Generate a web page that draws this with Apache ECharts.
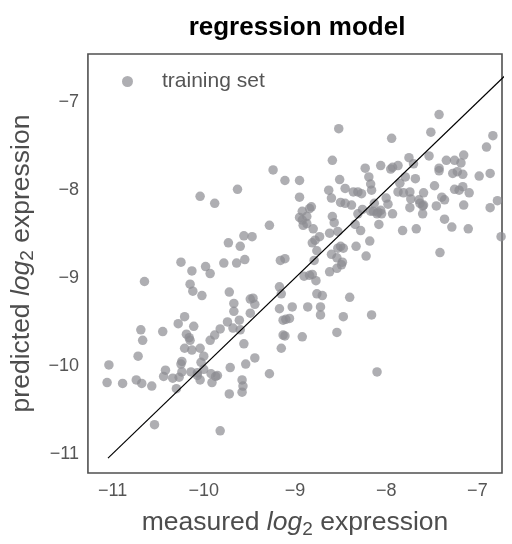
<!DOCTYPE html>
<html>
<head>
<meta charset="utf-8">
<script src="https://cdn.jsdelivr.net/npm/echarts@6/dist/echarts.min.js"></script>
<style>html,body{margin:0;padding:0;background:#fff;}#c{width:512px;height:544px;}</style>
</head>
<body>
<div id="c"></div>
<script>
const measured = [-9.24,-9.11,-10.04,-9.88,-9.63,-9.28,-9.56,-9.47,-9.73,-9.60,-10.25,-10.13,-9.98,-9.93,-9.78,-9.64,-9.55,-9.16,-9.11,-10.65,-10.15,-10.12,-10.02,-9.72,-9.67,-9.67,-9.49,-9.46,-9.44,-9.17,-9.15,-9.17,-9.03,-9.49,-10.21,-10.28,-10.69,-10.45,-10.67,-10.19,-10.16,-10.15,-10.11,-9.74,-9.61,-9.68,-9.60,-9.82,-9.88,-9.93,-9.13,-9.10,-9.06,-9.13,-9.11,-9.15,-9.56,-10.21,-10.13,-10.04,-10.72,-10.00,-9.44,-9.54,-9.71,-11.04,-10.24,-10.25,-10.03,-10.42,-10.44,-10.34,-10.27,-10.24,-10.14,-10.07,-10.07,-10.00,-9.92,-9.87,-9.85,-10.04,-9.91,-9.58,-9.57,-9.58,-9.72,-9.28,-11.06,-10.89,-10.74,-10.68,-10.57,-10.30,-10.54,-9.82,-7.42,-8.52,-7.94,-7.51,-6.83,-6.90,-8.59,-7.75,-7.53,-7.34,-7.25,-7.15,-7.18,-7.70,-8.23,-8.06,-7.95,-7.93,-7.87,-7.42,-7.42,-7.27,-7.22,-7.16,-6.98,-6.86,-8.19,-7.79,-7.68,-8.95,-8.51,-8.17,-7.85,-8.45,-8.63,-8.16,-7.47,-7.25,-7.20,-7.16,-7.09,-8.36,-8.31,-8.27,-7.87,-7.81,-7.74,-7.59,-8.95,-8.60,-8.00,-7.73,-7.64,-7.39,-7.36,-8.50,-8.45,-8.38,-7.63,-7.60,-7.59,-8.13,-7.98,-7.45,-7.15,-6.78,-6.86,-7.74,-8.82,-8.84,-8.92,-8.26,-8.31,-8.14,-8.17,-8.09,-8.06,-8.10,-8.05,-7.93,-7.60,-8.95,-8.87,-8.92,-8.87,-8.91,-8.59,-8.57,-7.36,-8.08,-8.34,-8.28,-8.80,-8.53,-8.62,-7.28,-7.10,-7.82,-7.67,-6.74,-8.73,-8.78,-8.81,-8.18,-8.33,-8.50,-8.47,-8.53,-8.76,-8.60,-8.54,-8.22,-7.41,-8.79,-8.48,-8.49,-8.54,-8.62,-8.90,-8.84,-8.81,-8.77,-8.76,-8.70,-8.40,-8.86,-8.72,-8.72,-8.47,-8.16,-8.54,-8.92,-8.10];
const predicted = [-7.77,-7.89,-8.07,-8.15,-7.99,-8.40,-8.52,-8.53,-8.60,-8.64,-8.82,-8.92,-8.87,-8.95,-8.83,-8.83,-8.79,-8.80,-8.78,-9.04,-9.07,-9.15,-9.20,-9.16,-9.29,-9.38,-9.24,-9.23,-9.30,-9.10,-9.18,-9.35,-9.33,-9.40,-9.44,-9.52,-9.59,-9.61,-9.71,-9.64,-9.68,-9.71,-9.55,-9.50,-9.48,-9.57,-9.59,-9.58,-9.65,-9.71,-9.48,-9.47,-9.46,-9.65,-9.66,-9.80,-9.75,-9.80,-9.82,-9.80,-9.89,-9.89,-9.91,-9.98,-10.02,-9.99,-9.95,-9.98,-9.96,-10.05,-10.12,-10.14,-10.13,-10.07,-10.07,-10.08,-10.11,-10.04,-10.09,-10.12,-10.11,-10.16,-10.19,-10.16,-10.23,-10.30,-10.32,-10.09,-10.19,-10.20,-10.16,-10.20,-10.23,-10.26,-10.67,-10.74,-7.14,-7.30,-7.41,-7.34,-7.38,-7.51,-7.66,-7.63,-7.61,-7.66,-7.66,-7.60,-7.69,-7.70,-7.75,-7.72,-7.76,-7.74,-7.72,-7.75,-7.78,-7.81,-7.79,-7.82,-7.84,-7.81,-7.85,-7.85,-7.87,-7.89,-7.88,-7.93,-7.92,-7.98,-8.00,-8.00,-7.95,-7.99,-8.00,-7.96,-8.03,-8.02,-8.02,-8.04,-8.02,-8.03,-8.02,-8.03,-8.08,-8.09,-8.09,-8.10,-8.11,-8.08,-8.11,-8.14,-8.15,-8.17,-8.15,-8.18,-8.17,-8.15,-8.16,-8.18,-8.17,-8.12,-8.20,-8.20,-8.19,-8.21,-8.24,-8.22,-8.27,-8.24,-8.24,-8.25,-8.23,-8.27,-8.27,-8.27,-8.27,-8.31,-8.30,-8.34,-8.38,-8.40,-8.30,-8.37,-8.33,-8.39,-8.39,-8.46,-8.44,-8.47,-8.49,-8.42,-8.44,-8.46,-8.44,-8.53,-8.53,-8.57,-8.60,-8.58,-8.64,-8.64,-8.66,-8.66,-8.69,-8.73,-8.77,-8.75,-8.71,-8.80,-8.82,-8.85,-8.89,-8.93,-8.98,-8.97,-8.96,-9.03,-9.18,-9.20,-9.22,-9.33,-9.33,-9.42,-9.44,-9.42,-9.62,-9.67,-10.07];
const identityLine = [-11.05, -6.6];
const xTicks = [-11, -10, -9, -8, -7];
const yTicks = [-11, -10, -9, -8, -7];
const seriesName = 'training set';

const points = measured.map((m, i) => [m, predicted[i]]);
const linePts = identityLine.map(v => [v, v]);
const fmt = v => (v < 0 ? '\u2212' : '') + Math.abs(v);
const labelColor = '#4d4d4d';
const fam = '"Liberation Sans", Arial, sans-serif';
const nameRich = {
  a: {fontSize: 26.5, color: labelColor, fontFamily: fam},
  i: {fontSize: 26.5, color: labelColor, fontFamily: fam, fontStyle: 'italic'},
  s: {fontSize: 19, color: labelColor, fontFamily: fam, padding: [13, 0, 0, 0]}
};

const chart = echarts.init(document.getElementById('c'), null, {renderer: 'canvas'});
chart.setOption({
  animation: false,
  backgroundColor: '#fff',
  title: {
    text: 'regression model', left: 292, top: 10, textAlign: 'center',
    textStyle: {fontSize: 26, fontWeight: 'bold', color: '#000', fontFamily: fam}
  },
  legend: {
    data: [seriesName], left: 117, top: 66, icon: 'circle', itemWidth: 11, itemHeight: 11,
    textStyle: {fontSize: 21, color: '#555', fontFamily: fam, padding: [0, 0, 0, 24]}
  },
  grid: {left: 87, right: 10, top: 54, bottom: 57, show: true, borderColor: '#505050', borderWidth: 1.6},
  xAxis: {
    type: 'value', min: -11.27, max: -6.73,
    splitLine: {show: false}, axisLine: {show: false}, axisTick: {show: false},
    axisLabel: {customValues: xTicks, formatter: fmt, fontSize: 18, color: '#555', margin: 9, fontFamily: fam},
    name: '{a|measured }{i|log}{s|2}{a| expression}', nameLocation: 'middle', nameGap: 34,
    nameTextStyle: {rich: nameRich}
  },
  yAxis: {
    type: 'value', min: -11.22, max: -6.45,
    splitLine: {show: false}, axisLine: {show: false}, axisTick: {show: false},
    axisLabel: {customValues: yTicks, formatter: fmt, fontSize: 18, color: '#555', margin: 9, fontFamily: fam},
    name: '{a|predicted }{i|log}{s|2}{a| expression}', nameLocation: 'middle', nameGap: 45,
    nameTextStyle: {rich: nameRich}
  },
  series: [
    {
      name: seriesName, type: 'scatter', data: points, symbolSize: 9.5,
      itemStyle: {color: 'rgb(140,140,146)', opacity: 0.7}, z: 2
    },
    {
      name: 'identity', type: 'line', data: linePts, symbol: 'none', clip: true,
      lineStyle: {color: '#000', width: 1.2}, z: 3, silent: true
    }
  ]
});
</script>
</body>
</html>
